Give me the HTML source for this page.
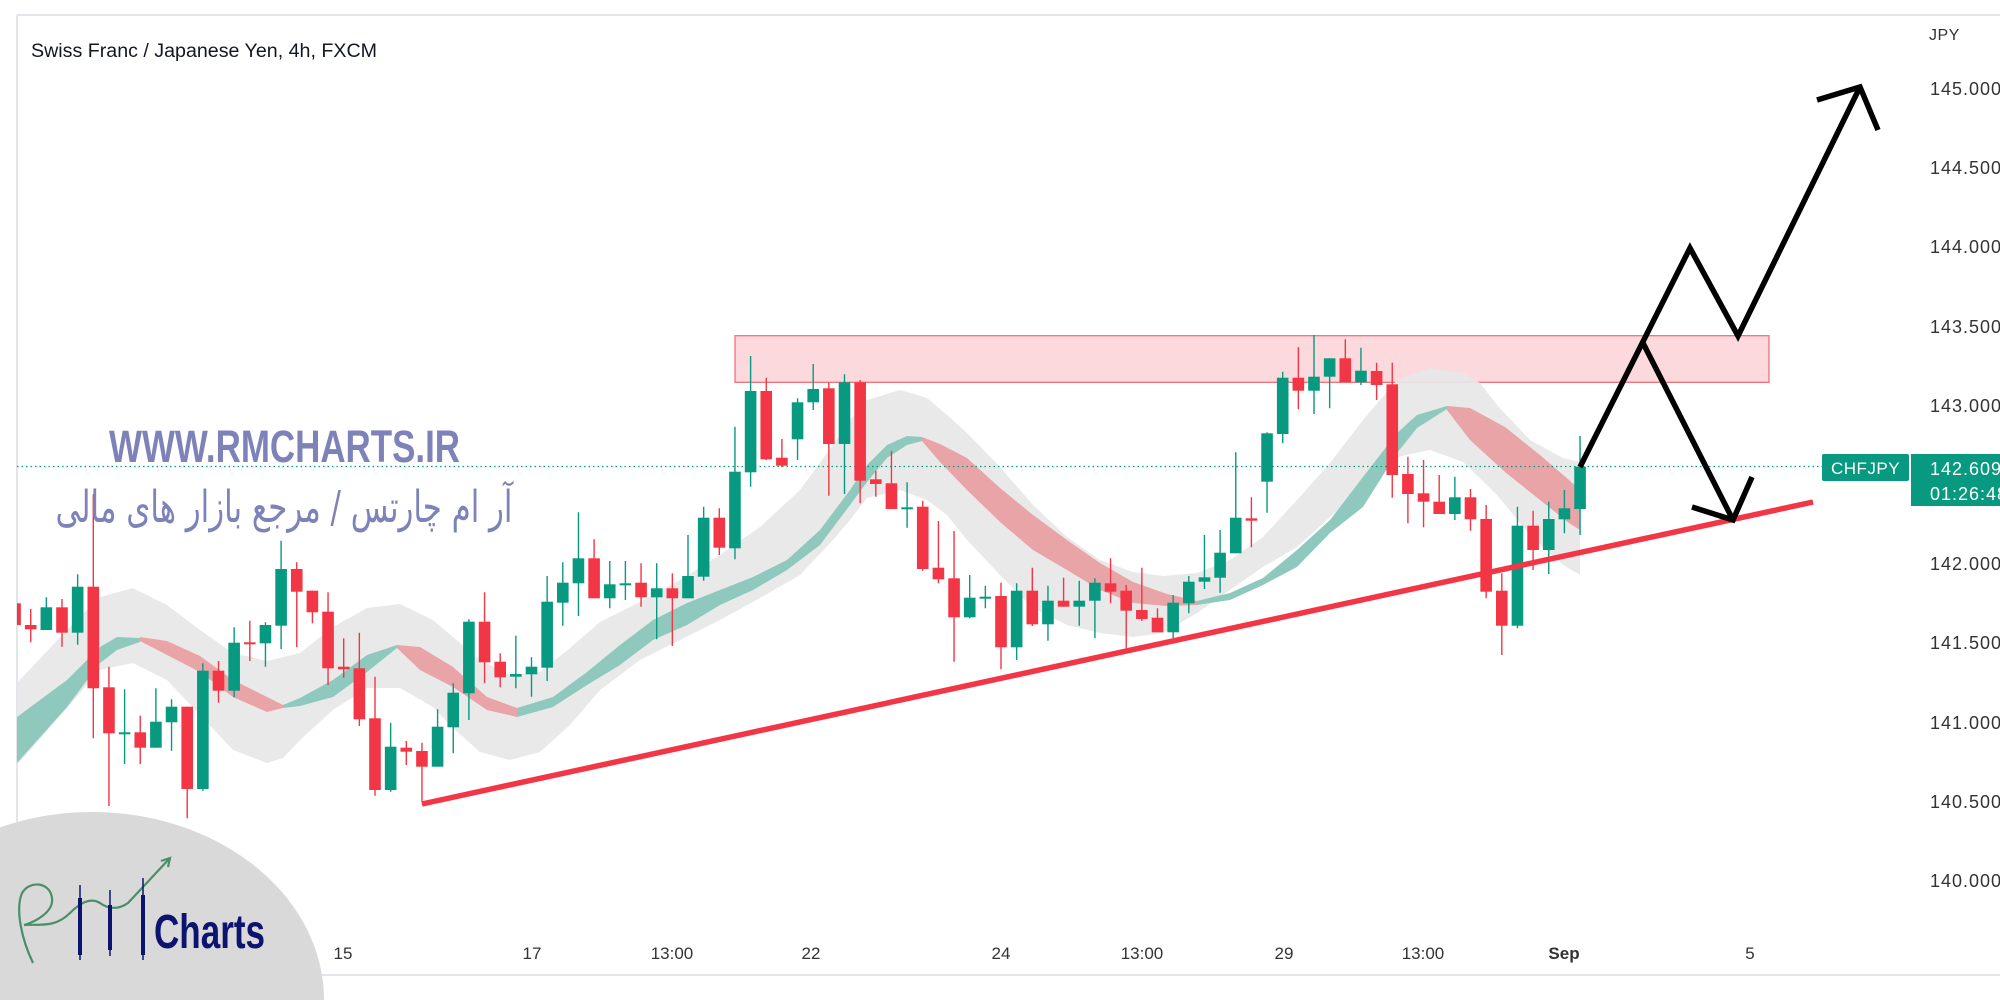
<!DOCTYPE html>
<html><head><meta charset="utf-8"><style>
html,body{margin:0;padding:0;background:#fff;width:2000px;height:1000px;overflow:hidden;}
svg{display:block;}
</style></head><body>
<svg width="2000" height="1000" viewBox="0 0 2000 1000" xmlns="http://www.w3.org/2000/svg">
<defs>
<clipPath id="cp"><rect x="17" y="15" width="1983" height="958"/></clipPath>
</defs>
<rect width="2000" height="1000" fill="#fff"/>
<line x1="17" y1="15" x2="2000" y2="15" stroke="#e3e5ea" stroke-width="2"/>
<line x1="17" y1="15" x2="17" y2="975" stroke="#e3e5ea" stroke-width="2"/>
<line x1="0" y1="975" x2="2000" y2="975" stroke="#e3e5ea" stroke-width="2"/>
<g clip-path="url(#cp)">
<rect x="735" y="335.7" width="1034" height="46.6" fill="#fcd9dc" stroke="#f0707b" stroke-width="1.3"/>
<polygon fill="#e7e7e7" fill-opacity="0.92" points="17,683 67,630 100,597 133,588 167,605 200,630 233,653 267,661 300,653 333,627 367,608 400,604 433,620 453,637 480,660 510,675 540,672 570,648 600,622 640,602 680,580 720,555 760,527 800,490 833,445 850,420 867,400 900,390 927,398 947,415 967,433 1000,467 1033,505 1067,537 1100,560 1133,572 1163,576 1197,573 1230,560 1263,537 1297,500 1330,463 1363,420 1397,380 1430,368 1463,373 1480,383 1497,405 1530,440 1563,458 1580,462 1580,575 1563,565 1530,535 1497,495 1463,462 1430,450 1397,457 1363,487 1330,517 1297,547 1263,567 1230,590 1197,613 1163,633 1133,637 1100,633 1067,625 1033,608 1000,575 967,540 947,515 927,500 900,490 867,498 850,520 833,540 800,575 760,598 720,620 680,640 640,660 600,690 570,725 540,752 510,760 480,752 453,728 433,707 400,688 367,688 333,710 300,740 283,758 267,763 233,750 200,715 167,680 133,663 100,670 67,708 17,765"/>
<g fill="#8fc9bd">
<polygon points="17,717 67,680 100,647 117,637 140,638 140,642 117,650 100,663 67,707 17,763"/>
<polygon points="283,705 300,698 333,680 367,655 397,645 397,648 367,672 333,697 300,706 283,708"/>
<polygon points="517,708 553,697 587,672 620,645 653,620 687,603 720,590 753,577 787,560 820,530 850,490 867,465 887,445 907,436 922,437 922,441 907,445 887,458 867,482 850,505 820,545 787,570 753,590 720,605 687,625 653,640 620,665 587,685 553,707 517,717"/>
<polygon points="1197,601 1230,593 1263,578 1297,550 1330,520 1363,477 1397,433 1417,415 1447,406 1447,409 1417,428 1397,453 1363,507 1330,533 1297,567 1263,585 1230,600 1197,605"/>
</g>
<g fill="#e8a4a6">
<polygon points="140,637 167,641 200,656 233,680 267,697 283,705 283,708 267,712 233,697 200,672 167,655 140,641"/>
<polygon points="397,645 420,647 453,667 487,697 517,708 517,717 487,710 453,687 420,670 397,648"/>
<polygon points="922,437 940,444 967,458 1000,488 1033,515 1067,540 1100,563 1133,582 1167,594 1197,601 1197,605 1167,606 1133,603 1100,590 1067,570 1033,550 1000,522 967,490 940,462 922,441"/>
<polygon points="1447,406 1470,408 1505,427 1540,455 1569,480 1580,490 1580,530 1569,523 1540,500 1505,472 1470,440 1447,410"/>
</g>
<line x1="17" y1="466.5" x2="1822" y2="466.5" stroke="#089981" stroke-width="1.2" stroke-dasharray="1.5,3"/>
<path fill="none" stroke="#f23645" stroke-width="1.4" d="M15.05 600V628 M30.7 609V642.3 M62 599V646.7 M93.3 494.3V738.3 M108.95 666.7V806 M140.25 715.7V764 M187.2 706.7V818.3 M218.5 661V702.7 M249.8 620.7V661 M296.75 562.3V647.3 M312.4 590.7V623.3 M328.05 592.3V685 M343.7 638.3V677.7 M359.35 632.7V726 M375 676.7V795.7 M406.3 741V765 M421.95 742.7V801.7 M484.55 592.3V683.3 M500.2 653.3V687.3 M594.1 539.3V598.3 M641.05 563.3V606.7 M672.35 573.3V646 M719.3 508.3V555 M766.25 377.7V460 M781.9 439V467.3 M828.85 382.3V495.7 M860.15 380V503.3 M875.8 470.7V496.7 M891.45 451V509 M922.75 500.7V570.7 M938.4 521V583.3 M954.05 531V661.7 M1001 582.7V669.3 M1032.3 567.7V626 M1063.6 577.7V606.7 M1110.55 558.3V603.3 M1126.2 585V648.3 M1141.85 567.7V621 M1157.5 608.3V632.3 M1251.4 497.3V547.3 M1298.35 347.3V409.3 M1345.3 339.3V382.3 M1376.6 362.7V400 M1392.25 362.7V497.7 M1407.9 456.7V523.3 M1423.55 460V527.3 M1439.2 475V514 M1470.5 489V530.7 M1486.15 505V598.3 M1501.8 573.3V655 M1533.1 510.7V570"/>
<g fill="#f23645">
<rect x="9.25" y="603.3" width="11.6" height="21.7"/>
<rect x="24.9" y="625" width="11.6" height="4.3"/>
<rect x="56.2" y="607.3" width="11.6" height="25.4"/>
<rect x="87.5" y="586.7" width="11.6" height="101.6"/>
<rect x="103.15" y="687.3" width="11.6" height="46"/>
<rect x="134.45" y="732.3" width="11.6" height="15.4"/>
<rect x="181.4" y="706.7" width="11.6" height="82.3"/>
<rect x="212.7" y="670.7" width="11.6" height="20"/>
<rect x="244" y="642.3" width="11.6" height="2"/>
<rect x="290.95" y="569" width="11.6" height="22.7"/>
<rect x="306.6" y="590.7" width="11.6" height="21.6"/>
<rect x="322.25" y="611.7" width="11.6" height="56.6"/>
<rect x="337.9" y="666.7" width="11.6" height="2.6"/>
<rect x="353.55" y="668.3" width="11.6" height="51"/>
<rect x="369.2" y="718.3" width="11.6" height="71.7"/>
<rect x="400.5" y="747.7" width="11.6" height="4"/>
<rect x="416.15" y="751" width="11.6" height="15.7"/>
<rect x="478.75" y="621.7" width="11.6" height="40.6"/>
<rect x="494.4" y="661.7" width="11.6" height="15.6"/>
<rect x="588.3" y="558.3" width="11.6" height="40"/>
<rect x="635.25" y="582.7" width="11.6" height="14.6"/>
<rect x="666.55" y="588.3" width="11.6" height="10"/>
<rect x="713.5" y="517.7" width="11.6" height="30"/>
<rect x="760.45" y="391" width="11.6" height="68.3"/>
<rect x="776.1" y="457.7" width="11.6" height="8"/>
<rect x="823.05" y="388.3" width="11.6" height="55.7"/>
<rect x="854.35" y="382.3" width="11.6" height="98.4"/>
<rect x="870" y="479.3" width="11.6" height="4.7"/>
<rect x="885.65" y="483.3" width="11.6" height="25.7"/>
<rect x="916.95" y="506.7" width="11.6" height="62.3"/>
<rect x="932.6" y="567.7" width="11.6" height="11.6"/>
<rect x="948.25" y="578.3" width="11.6" height="39"/>
<rect x="995.2" y="596" width="11.6" height="51.3"/>
<rect x="1026.5" y="590.7" width="11.6" height="33.6"/>
<rect x="1057.8" y="600.7" width="11.6" height="6"/>
<rect x="1104.75" y="583.3" width="11.6" height="8.4"/>
<rect x="1120.4" y="590.7" width="11.6" height="20"/>
<rect x="1136.05" y="610" width="11.6" height="9"/>
<rect x="1151.7" y="617.7" width="11.6" height="14.6"/>
<rect x="1245.6" y="518.3" width="11.6" height="2.4"/>
<rect x="1292.55" y="377.7" width="11.6" height="13"/>
<rect x="1339.5" y="358.3" width="11.6" height="24"/>
<rect x="1370.8" y="371" width="11.6" height="14"/>
<rect x="1386.45" y="384.3" width="11.6" height="90.7"/>
<rect x="1402.1" y="474" width="11.6" height="20"/>
<rect x="1417.75" y="493.3" width="11.6" height="8.4"/>
<rect x="1433.4" y="501.7" width="11.6" height="12.3"/>
<rect x="1464.7" y="497.3" width="11.6" height="22"/>
<rect x="1480.35" y="519" width="11.6" height="72.7"/>
<rect x="1496" y="590.7" width="11.6" height="35"/>
<rect x="1527.3" y="525.7" width="11.6" height="24.3"/>
</g>
<path fill="none" stroke="#089981" stroke-width="1.4" d="M46.35 597.3V630 M77.65 574.3V644.7 M124.6 689.3V764 M155.9 688.3V747.7 M171.55 699.3V750.7 M202.85 663.3V790.7 M234.15 627.3V697.3 M265.45 622.3V666.7 M281.1 540.7V649 M390.65 722.7V791.7 M437.6 709.3V766.7 M453.25 683.3V753.3 M468.9 619.3V720 M515.85 635.7V688.3 M531.5 657.3V696.7 M547.15 576V681 M562.8 562.3V625.7 M578.45 512.3V616 M609.75 561V608.3 M625.4 561V600 M656.7 563.3V639.3 M688 535V598.3 M703.65 506.7V580.7 M734.95 426.7V559.3 M750.6 356V486.7 M797.55 398.3V460 M813.2 364V410 M844.5 374.3V494 M907.1 482.3V527.7 M969.7 575V618.3 M985.35 585.7V608.3 M1016.65 583.3V660 M1047.95 585.7V640.7 M1079.25 580.7V625.7 M1094.9 578.3V638.3 M1173.15 595V638.3 M1188.8 576V613.3 M1204.45 535V589 M1220.1 530V592.7 M1235.75 452.3V553.3 M1267.05 432.3V512.7 M1282.7 371.7V443.3 M1314 335V414 M1329.65 358.3V408.3 M1360.95 347.7V385 M1454.85 476.7V520 M1517.45 506.7V628.3 M1548.75 501.7V574 M1564.4 490V533.3 M1580.05 436V535"/>
<g fill="#089981">
<rect x="40.55" y="607.3" width="11.6" height="22.7"/>
<rect x="71.85" y="586.7" width="11.6" height="46"/>
<rect x="118.8" y="732.3" width="11.6" height="2"/>
<rect x="150.1" y="721.7" width="11.6" height="26"/>
<rect x="165.75" y="706.7" width="11.6" height="15.6"/>
<rect x="197.05" y="670.7" width="11.6" height="118.3"/>
<rect x="228.35" y="642.7" width="11.6" height="48"/>
<rect x="259.65" y="625" width="11.6" height="18.3"/>
<rect x="275.3" y="569" width="11.6" height="56.7"/>
<rect x="384.85" y="746.7" width="11.6" height="43.3"/>
<rect x="431.8" y="726.7" width="11.6" height="40"/>
<rect x="447.45" y="692.7" width="11.6" height="34.6"/>
<rect x="463.1" y="621.7" width="11.6" height="71.6"/>
<rect x="510.05" y="674" width="11.6" height="2.7"/>
<rect x="525.7" y="666.7" width="11.6" height="7.6"/>
<rect x="541.35" y="601.7" width="11.6" height="66"/>
<rect x="557" y="582.7" width="11.6" height="20"/>
<rect x="572.65" y="558.3" width="11.6" height="25"/>
<rect x="603.95" y="584.3" width="11.6" height="14"/>
<rect x="619.6" y="583.3" width="11.6" height="2"/>
<rect x="650.9" y="588.3" width="11.6" height="9"/>
<rect x="682.2" y="576" width="11.6" height="22.3"/>
<rect x="697.85" y="517.7" width="11.6" height="59"/>
<rect x="729.15" y="471.7" width="11.6" height="76.6"/>
<rect x="744.8" y="391" width="11.6" height="81.3"/>
<rect x="791.75" y="402.3" width="11.6" height="37"/>
<rect x="807.4" y="389" width="11.6" height="13.3"/>
<rect x="838.7" y="382.3" width="11.6" height="61.7"/>
<rect x="901.3" y="507.3" width="11.6" height="2"/>
<rect x="963.9" y="597.7" width="11.6" height="19.6"/>
<rect x="979.55" y="596.7" width="11.6" height="2"/>
<rect x="1010.85" y="590.7" width="11.6" height="56.6"/>
<rect x="1042.15" y="600.7" width="11.6" height="23.6"/>
<rect x="1073.45" y="600.7" width="11.6" height="6"/>
<rect x="1089.1" y="582.7" width="11.6" height="18"/>
<rect x="1167.35" y="602.7" width="11.6" height="29.6"/>
<rect x="1183" y="581.7" width="11.6" height="21.6"/>
<rect x="1198.65" y="577.3" width="11.6" height="4.4"/>
<rect x="1214.3" y="552.7" width="11.6" height="25"/>
<rect x="1229.95" y="517.7" width="11.6" height="35.6"/>
<rect x="1261.25" y="433.3" width="11.6" height="48.4"/>
<rect x="1276.9" y="377.7" width="11.6" height="56.3"/>
<rect x="1308.2" y="376.7" width="11.6" height="14"/>
<rect x="1323.85" y="358.3" width="11.6" height="18.4"/>
<rect x="1355.15" y="370.7" width="11.6" height="11.6"/>
<rect x="1449.05" y="497.3" width="11.6" height="16.7"/>
<rect x="1511.65" y="525.7" width="11.6" height="100"/>
<rect x="1542.95" y="519" width="11.6" height="31"/>
<rect x="1558.6" y="508.3" width="11.6" height="11"/>
<rect x="1574.25" y="466.7" width="11.6" height="42.3"/>
</g>
<line x1="422" y1="804" x2="1813" y2="502" stroke="#f23645" stroke-width="5.5"/>
<g fill="none" stroke="#000" stroke-width="5.5" stroke-linejoin="miter">
<polyline points="1580,467 1690,248 1738,336 1860,87"/>
<polyline points="1817,100 1860,87 1878,130"/>
<polyline points="1643,343 1733,520"/>
<polyline points="1692,507 1733,520 1752,477"/>
</g>
</g>
<text x="31" y="57" font-family="Liberation Sans, sans-serif" font-size="19" fill="#131722" textLength="346" lengthAdjust="spacingAndGlyphs">Swiss Franc / Japanese Yen, 4h, FXCM</text>
<text x="109" y="462" font-family="Liberation Sans, sans-serif" font-weight="bold" font-size="45" fill="#7d82b8" textLength="351" lengthAdjust="spacingAndGlyphs">WWW.RMCHARTS.IR</text>
<text x="284" y="522" text-anchor="middle" direction="rtl" font-family="DejaVu Sans, sans-serif" font-size="44" fill="#7d82b8" textLength="457" lengthAdjust="spacingAndGlyphs">آر ام چارتس / مرجع بازار های مالی</text>
<g font-family="Liberation Sans, sans-serif" font-size="18" fill="#333" letter-spacing="1">
<text x="1929" y="40" font-size="16" letter-spacing="0.5">JPY</text>
<text x="1930" y="95">145.000</text>
<text x="1930" y="174">144.500</text>
<text x="1930" y="253">144.000</text>
<text x="1930" y="333">143.500</text>
<text x="1930" y="412">143.000</text>
<text x="1930" y="570">142.000</text>
<text x="1930" y="649">141.500</text>
<text x="1930" y="729">141.000</text>
<text x="1930" y="808">140.500</text>
<text x="1930" y="887">140.000</text>
</g>
<rect x="1822" y="454" width="87" height="27" rx="2" fill="#089981"/>
<text x="1865.5" y="474" text-anchor="middle" font-family="Liberation Sans, sans-serif" font-size="17" fill="#fff" letter-spacing="0.5">CHFJPY</text>
<rect x="1911" y="454" width="89" height="52" fill="#089981"/>
<text x="1930" y="475" font-family="Liberation Sans, sans-serif" font-size="18" fill="#fff" letter-spacing="1">142.609</text>
<text x="1930" y="500" font-family="Liberation Sans, sans-serif" font-size="18" fill="#fff" letter-spacing="1">01:26:48</text>
<g font-family="Liberation Sans, sans-serif" font-size="17" fill="#333" text-anchor="middle">
<text x="343" y="959">15</text>
<text x="532" y="959">17</text>
<text x="672" y="959">13:00</text>
<text x="811" y="959">22</text>
<text x="1001" y="959">24</text>
<text x="1142" y="959">13:00</text>
<text x="1284" y="959">29</text>
<text x="1423" y="959">13:00</text>
<text x="1564" y="959" font-weight="bold">Sep</text>
<text x="1750" y="959">5</text>
</g>
<path d="M0,1000 L0,827.4 A232,188 0 0 1 324,1000 Z" fill="#d9d9d9"/>
<path d="M33,963 C22,940 15,910 22,893 C30,880 50,882 52,898 C54,912 35,922 24,925 C40,924 55,928 70,913 C80,903 90,897 100,903 C108,909 118,910 128,903 L170,858 M161,861 L170,858 L168,867" fill="none" stroke="#4a8f6a" stroke-width="2.2"/>
<g stroke="#0d1470">
<line x1="80" y1="885" x2="80" y2="960" stroke-width="1.5"/>
<line x1="80" y1="898" x2="80" y2="955" stroke-width="4"/>
<line x1="110" y1="890" x2="110" y2="956" stroke-width="1.5"/>
<line x1="110" y1="905" x2="110" y2="950" stroke-width="4"/>
<line x1="143" y1="878" x2="143" y2="960" stroke-width="1.5"/>
<line x1="143" y1="895" x2="143" y2="955" stroke-width="4"/>
</g>
<text x="154" y="948" font-family="Liberation Sans, sans-serif" font-weight="bold" font-size="48" fill="#0d1470" textLength="111" lengthAdjust="spacingAndGlyphs">Charts</text>
</svg>
</body></html>
